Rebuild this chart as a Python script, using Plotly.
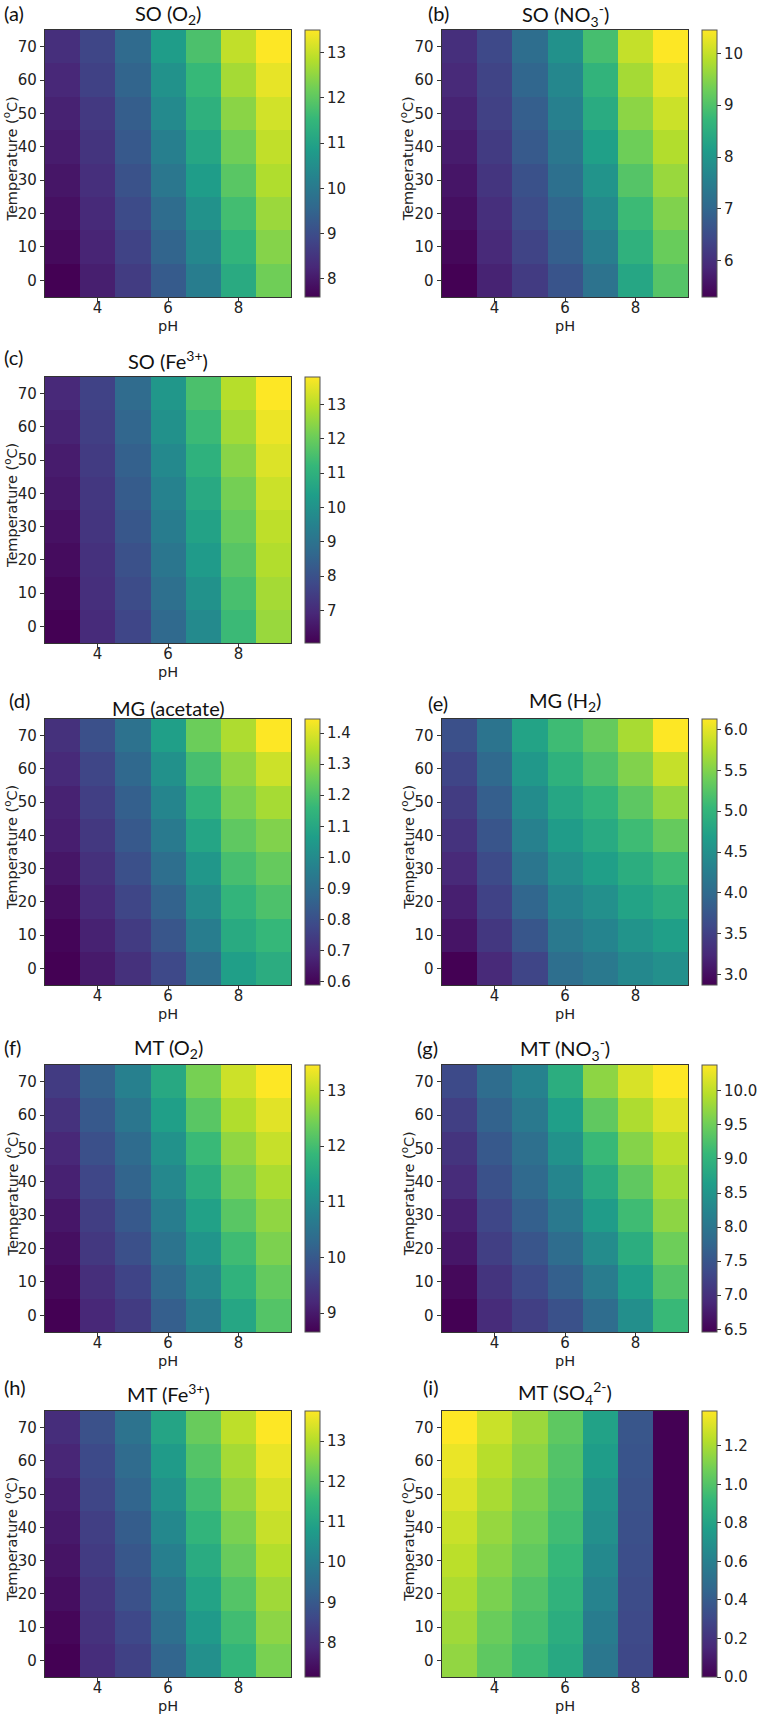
import plotly.graph_objects as go

W, H = 759, 1715

PH = [3, 4, 5, 6, 7, 8, 9]
TEMP = [0, 10, 20, 30, 40, 50, 60, 70]
X_TICKS = [4, 6, 8]
Y_TICKS = [0, 10, 20, 30, 40, 50, 60, 70]

# each inner list = one pH column (pH 3..9), values for T = 0..70 degC
so_o2 = [
    [7.60, 7.75, 7.85, 7.95, 8.05, 8.15, 8.25, 8.40],
    [8.10, 8.20, 8.30, 8.40, 8.50, 8.60, 8.75, 8.85],
    [8.65, 8.80, 8.95, 9.10, 9.25, 9.35, 9.50, 9.65],
    [9.30, 9.50, 9.70, 9.95, 10.15, 10.40, 10.60, 10.85],
    [10.10, 10.35, 10.60, 10.85, 11.10, 11.35, 11.55, 11.80],
    [11.20, 11.45, 11.70, 11.95, 12.20, 12.45, 12.70, 12.95],
    [12.20, 12.40, 12.60, 12.80, 12.95, 13.10, 13.30, 13.50],
]
so_no3 = [
    [5.30, 5.40, 5.50, 5.60, 5.70, 5.80, 5.90, 6.00],
    [5.80, 5.90, 6.00, 6.10, 6.20, 6.30, 6.35, 6.45],
    [6.20, 6.35, 6.50, 6.60, 6.75, 6.85, 7.00, 7.15],
    [6.65, 6.85, 7.00, 7.20, 7.35, 7.55, 7.70, 7.90],
    [7.25, 7.50, 7.75, 7.95, 8.20, 8.45, 8.65, 8.90],
    [8.35, 8.60, 8.80, 9.05, 9.30, 9.55, 9.75, 10.00],
    [9.05, 9.25, 9.45, 9.65, 9.85, 10.05, 10.25, 10.45],
]
so_fe3 = [
    [6.05, 6.15, 6.30, 6.40, 6.55, 6.65, 6.80, 6.95],
    [7.00, 7.10, 7.15, 7.25, 7.30, 7.40, 7.50, 7.60],
    [7.70, 7.85, 8.00, 8.15, 8.30, 8.45, 8.60, 8.75],
    [8.70, 8.90, 9.10, 9.30, 9.50, 9.70, 9.95, 10.15],
    [9.75, 10.00, 10.25, 10.50, 10.75, 11.00, 11.30, 11.55],
    [11.30, 11.50, 11.75, 11.95, 12.15, 12.40, 12.70, 12.95],
    [12.60, 12.75, 12.90, 13.05, 13.20, 13.40, 13.60, 13.80],
]
mg_acetate = [
    [0.590, 0.600, 0.620, 0.640, 0.660, 0.670, 0.690, 0.710],
    [0.650, 0.670, 0.690, 0.710, 0.730, 0.750, 0.770, 0.800],
    [0.710, 0.740, 0.770, 0.800, 0.830, 0.850, 0.880, 0.910],
    [0.780, 0.820, 0.860, 0.900, 0.940, 0.980, 1.020, 1.070],
    [0.900, 0.950, 1.000, 1.040, 1.090, 1.140, 1.190, 1.250],
    [1.070, 1.110, 1.150, 1.190, 1.230, 1.270, 1.300, 1.340],
    [1.120, 1.160, 1.200, 1.240, 1.280, 1.330, 1.380, 1.445],
]
mg_h2 = [
    [2.87, 3.05, 3.15, 3.25, 3.35, 3.45, 3.55, 3.68],
    [3.25, 3.40, 3.52, 3.62, 3.74, 3.85, 3.98, 4.12],
    [3.55, 3.75, 3.95, 4.15, 4.30, 4.45, 4.60, 4.75],
    [4.05, 4.20, 4.35, 4.50, 4.65, 4.80, 4.95, 5.10],
    [4.20, 4.35, 4.50, 4.70, 4.85, 5.00, 5.20, 5.35],
    [4.40, 4.55, 4.75, 4.90, 5.10, 5.30, 5.50, 5.70],
    [4.50, 4.70, 4.90, 5.10, 5.35, 5.60, 5.85, 6.13],
]
mt_o2 = [
    [8.66, 8.75, 8.85, 8.95, 9.10, 9.20, 9.35, 9.50],
    [9.20, 9.30, 9.45, 9.55, 9.70, 9.85, 10.00, 10.15],
    [9.50, 9.65, 9.85, 10.00, 10.20, 10.35, 10.55, 10.75],
    [10.10, 10.30, 10.50, 10.70, 10.90, 11.10, 11.35, 11.55],
    [10.65, 10.90, 11.15, 11.40, 11.65, 11.90, 12.20, 12.45],
    [11.50, 11.75, 11.95, 12.20, 12.45, 12.65, 12.90, 13.10],
    [12.15, 12.30, 12.50, 12.65, 12.85, 13.05, 13.25, 13.46],
]
mt_no3 = [
    [6.46, 6.55, 6.70, 6.80, 6.95, 7.05, 7.20, 7.35],
    [6.95, 7.05, 7.20, 7.30, 7.45, 7.55, 7.70, 7.85],
    [7.20, 7.35, 7.50, 7.65, 7.80, 7.90, 8.05, 8.20],
    [7.45, 7.65, 7.85, 8.05, 8.25, 8.45, 8.65, 8.90],
    [7.85, 8.10, 8.35, 8.60, 8.85, 9.10, 9.40, 9.70],
    [8.40, 8.65, 8.90, 9.15, 9.40, 9.65, 9.90, 10.15],
    [9.10, 9.30, 9.50, 9.70, 9.85, 10.00, 10.20, 10.38],
]
mt_fe3 = [
    [7.15, 7.25, 7.40, 7.50, 7.60, 7.70, 7.85, 8.00],
    [8.00, 8.10, 8.20, 8.30, 8.40, 8.55, 8.65, 8.80],
    [8.45, 8.60, 8.80, 8.95, 9.10, 9.30, 9.45, 9.65],
    [9.30, 9.55, 9.75, 10.00, 10.25, 10.50, 10.75, 11.00],
    [10.45, 10.70, 10.95, 11.20, 11.45, 11.70, 11.95, 12.20],
    [11.50, 11.70, 11.95, 12.20, 12.40, 12.65, 12.85, 13.10],
    [12.40, 12.60, 12.80, 13.00, 13.20, 13.35, 13.55, 13.75],
]
mt_so4 = [
    [1.15, 1.18, 1.21, 1.24, 1.27, 1.31, 1.34, 1.38],
    [1.03, 1.06, 1.10, 1.13, 1.16, 1.20, 1.23, 1.27],
    [0.94, 0.97, 1.00, 1.04, 1.07, 1.10, 1.14, 1.17],
    [0.83, 0.86, 0.89, 0.92, 0.95, 0.98, 1.00, 1.03],
    [0.55, 0.58, 0.62, 0.65, 0.69, 0.72, 0.76, 0.79],
    [0.30, 0.31, 0.32, 0.33, 0.34, 0.35, 0.36, 0.37],
    [0.00, 0.00, 0.00, 0.00, 0.00, 0.00, 0.00, 0.00],
]

TITLES = [
    "SO (O<sub>2</sub>)", "SO (NO<sub>3</sub><sup>-</sup>)", "SO (Fe<sup>3+</sup>)",
    "MG (acetate)", "MG (H<sub>2</sub>)", "MT (O<sub>2</sub>)",
    "MT (NO<sub>3</sub><sup>-</sup>)", "MT (Fe<sup>3+</sup>)", "MT (SO<sub>4</sub><sup>2-</sup>)",
]
LETTERS = ["(a)", "(b)", "(c)", "(d)", "(e)", "(f)", "(g)", "(h)", "(i)"]
DATA = [so_o2, so_no3, so_fe3, mg_acetate, mg_h2, mt_o2, mt_no3, mt_fe3, mt_so4]
CB_DTICK = [1, 1, 1, 0.1, 0.5, 1, 0.5, 1, 0.2]
CB_FMT = ["d", "d", "d", ".1f", ".1f", "d", ".1f", "d", ".1f"]

# layout in pixels
COLS = {0: (45, 293), 1: (444, 692)}
ROWS = [(30, 297), (377, 643), (719, 985), (1065, 1332), (1411, 1677)]
SLOTS = [(0, 0), (0, 1), (1, 0), (2, 0), (2, 1), (3, 0), (3, 1), (4, 0), (4, 1)]
LETTER_X = [2, 428, 2, 7, 428, 2, 417, 2, 423]
LETTER_DY = [-17, -17, -20, -19, -16, -18, -17, -24, -24]
TITLE_DY = [-15, -15, -17, -11, -17, -17, -16, -18, -18]

def fx(px):
    return px / W

def fy(py):
    return 1 - py / H

TICKFONT = dict(family="DejaVu Sans", size=15, color="#222")
LABFONT = dict(family="DejaVu Sans", size=14.5, color="#222")
TFONT = dict(family="Lato", size=20, color="#111")

fig = go.Figure()
annotations = []
layout = dict(width=W, height=H, margin=dict(l=0, r=0, t=0, b=0),
              paper_bgcolor="white", plot_bgcolor="white", showlegend=False)

for i, (vals, title, letter) in enumerate(zip(DATA, TITLES, LETTERS)):
    r, c = SLOTS[i]
    x0, x1 = COLS[c]
    y0, y1 = ROWS[r]
    n = i + 1
    xa = "x" if n == 1 else f"x{n}"
    ya = "y" if n == 1 else f"y{n}"
    z = [list(row) for row in zip(*vals)]
    fig.add_trace(go.Heatmap(
        x=PH, y=TEMP, z=z, colorscale="Viridis", xaxis=xa, yaxis=ya,
        colorbar=dict(
            x=fx(x1 + 14), xanchor="left", xpad=0,
            y=fy((y0 + y1) / 2), yanchor="middle", ypad=0,
            len=(y1 - y0), lenmode="pixels", thickness=15, thicknessmode="pixels",
            outlinewidth=1, outlinecolor="#555",
            ticks="outside", ticklen=4, tickcolor="#333",
            dtick=CB_DTICK[i], tick0=0, tickformat=CB_FMT[i], tickfont=TICKFONT,
        ),
    ))
    axcommon = dict(showline=True, linecolor="#333", linewidth=1, mirror=True,
                    ticks="outside", ticklen=4, tickcolor="#333", showgrid=False,
                    zeroline=False, tickfont=TICKFONT, fixedrange=True)
    layout["xaxis" if n == 1 else f"xaxis{n}"] = dict(
        domain=[fx(x0), fx(x1)], range=[2.5, 9.5], tickvals=X_TICKS,
        anchor=ya, ticklabelstandoff=-7, **axcommon)
    layout["yaxis" if n == 1 else f"yaxis{n}"] = dict(
        domain=[fy(y1), fy(y0)], range=[-5, 75], tickvals=Y_TICKS,
        anchor=xa, **axcommon)
    xc = (x0 + x1) / 2
    yc = (y0 + y1) / 2
    annotations.append(dict(text=title, x=fx(xc), y=fy(y0 + TITLE_DY[i]), xref="paper",
                            yref="paper", xanchor="center", yanchor="middle",
                            showarrow=False, font=TFONT))
    annotations.append(dict(text=letter, x=fx(LETTER_X[i]), y=fy(y0 + LETTER_DY[i]),
                            xref="paper", yref="paper", xanchor="left", yanchor="middle",
                            showarrow=False, font=TFONT))
    annotations.append(dict(text="pH", x=fx(xc), y=fy(y1 + 29), xref="paper", yref="paper",
                            xanchor="center", yanchor="middle", showarrow=False,
                            font=LABFONT))
    annotations.append(dict(text="Temperature (<sup>o</sup>C)", x=fx(x0 - 34), y=fy(yc - 5),
                            xref="paper", yref="paper", xanchor="center",
                            yanchor="middle", textangle=-90, showarrow=False,
                            font=LABFONT))

layout["annotations"] = annotations
fig.update_layout(**layout)
fig.write_html("out.html")
